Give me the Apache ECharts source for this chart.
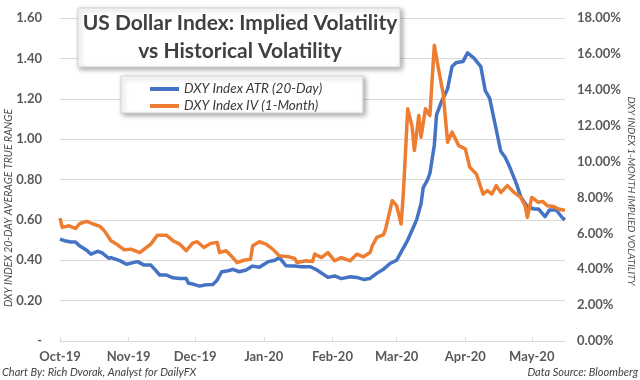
<!DOCTYPE html>
<html>
<head>
<meta charset="utf-8">
<script src="https://cdn.jsdelivr.net/npm/echarts@6/dist/echarts.min.js"></script>
<style>
html,body{margin:0;padding:0;background:#fff;}
#chart{width:640px;height:380px;}
</style>
</head>
<body>
<div id="chart"></div>
<script>
// ---- Data ----
const titleText = 'US Dollar Index: Implied Volatility\nvs Historical Volatility';
const seriesNames = ['DXY Index ATR (20-Day)', 'DXY Index IV (1-Month)'];
const monthTicks = ['2019-10-01','2019-11-01','2019-12-01','2020-01-01','2020-02-01','2020-03-01','2020-04-01','2020-05-01'];
const monthNames = ['Jan','Feb','Mar','Apr','May','Jun','Jul','Aug','Sep','Oct','Nov','Dec'];
const xStart = '2019-10-01';
const xEnd = '2020-05-16';

const atrDates = ['2019-10-01','2019-10-03','2019-10-06','2019-10-08','2019-10-10','2019-10-13','2019-10-15','2019-10-18','2019-10-20','2019-10-23','2019-10-24','2019-10-28','2019-10-31',
 '2019-11-03','2019-11-05','2019-11-08','2019-11-11','2019-11-13','2019-11-15','2019-11-18','2019-11-21','2019-11-24','2019-11-27','2019-11-28','2019-11-30',
 '2019-12-03','2019-12-06','2019-12-09','2019-12-11','2019-12-13','2019-12-16','2019-12-18','2019-12-21','2019-12-24','2019-12-27','2019-12-30',
 '2020-01-03','2020-01-06','2020-01-08','2020-01-11','2020-01-15','2020-01-18','2020-01-22','2020-01-25','2020-01-30',
 '2020-02-02','2020-02-05','2020-02-09','2020-02-12','2020-02-15','2020-02-18','2020-02-21','2020-02-24','2020-02-27',
 '2020-03-01','2020-03-03','2020-03-06','2020-03-08','2020-03-10','2020-03-12','2020-03-13','2020-03-15','2020-03-16','2020-03-18','2020-03-19','2020-03-21','2020-03-24','2020-03-26','2020-03-28','2020-03-31',
 '2020-04-02','2020-04-05','2020-04-08','2020-04-10','2020-04-12','2020-04-17','2020-04-19','2020-04-21','2020-04-24','2020-04-26','2020-04-29',
 '2020-05-02','2020-05-04','2020-05-07','2020-05-09','2020-05-12','2020-05-15','2020-05-16'];
const atrValues = [0.505,0.497,0.49,0.49,0.47,0.45,0.43,0.444,0.437,0.41,0.413,0.398,0.38,
 0.388,0.393,0.376,0.376,0.352,0.327,0.327,0.313,0.31,0.309,0.286,0.282,
 0.272,0.279,0.28,0.302,0.343,0.348,0.355,0.343,0.352,0.371,0.365,
 0.393,0.40,0.414,0.373,0.371,0.368,0.368,0.352,0.315,
 0.322,0.309,0.318,0.315,0.305,0.31,0.335,0.355,0.384,
 0.40,0.44,0.50,0.55,0.60,0.68,0.76,0.80,0.83,0.97,1.12,1.18,1.25,1.36,1.38,1.385,
 1.428,1.40,1.359,1.24,1.202,0.94,0.91,0.863,0.781,0.715,0.665,
 0.654,0.654,0.616,0.649,0.649,0.608,0.60];

const ivDates = ['2019-10-01','2019-10-02','2019-10-05','2019-10-08','2019-10-10','2019-10-13','2019-10-16','2019-10-19','2019-10-21','2019-10-24','2019-10-27','2019-10-30',
 '2019-11-02','2019-11-06','2019-11-09','2019-11-11','2019-11-14','2019-11-18','2019-11-21','2019-11-24','2019-11-27','2019-11-30',
 '2019-12-02','2019-12-05','2019-12-08','2019-12-11','2019-12-12','2019-12-15','2019-12-18','2019-12-20','2019-12-23','2019-12-26','2019-12-27','2019-12-30',
 '2020-01-02','2020-01-05','2020-01-08','2020-01-12','2020-01-15','2020-01-16','2020-01-20','2020-01-23','2020-01-24','2020-01-27','2020-01-30',
 '2020-02-02','2020-02-05','2020-02-09','2020-02-12','2020-02-15','2020-02-18','2020-02-19','2020-02-21','2020-02-24','2020-02-25','2020-02-28',
 '2020-03-01','2020-03-03','2020-03-04','2020-03-06','2020-03-08','2020-03-09','2020-03-11','2020-03-12','2020-03-14','2020-03-16','2020-03-18','2020-03-20','2020-03-22','2020-03-24','2020-03-26','2020-03-29',
 '2020-04-01','2020-04-03','2020-04-06','2020-04-09','2020-04-11','2020-04-13','2020-04-15','2020-04-17','2020-04-20','2020-04-23','2020-04-26','2020-04-28','2020-04-29',
 '2020-05-01','2020-05-04','2020-05-06','2020-05-08','2020-05-11','2020-05-13','2020-05-15','2020-05-16'];
const ivValues = [6.85,6.33,6.42,6.27,6.55,6.67,6.52,6.39,6.15,5.59,5.36,5.08,
 5.12,4.93,5.21,5.40,5.90,5.90,5.59,5.40,5.03,5.47,
 5.53,5.21,5.44,5.49,4.93,5.03,4.65,4.37,4.50,4.56,5.31,5.53,
 5.40,5.12,4.75,4.70,4.60,4.37,4.47,4.43,4.84,4.65,4.93,
 4.47,4.65,4.47,4.84,4.69,4.93,5.31,5.77,5.92,6.24,7.82,
 7.54,6.52,8.19,12.94,11.92,10.61,12.57,11.36,12.94,12.57,16.48,15.08,13.78,11.08,11.64,10.89,
 10.71,9.68,9.31,8.19,8.38,8.19,8.66,8.28,8.66,8.28,8.0,7.54,6.89,
 8.0,7.73,7.78,7.54,7.49,7.36,7.30,7.30];

// ---- helpers ----
function toTime(s){ const p = s.split('-'); return new Date(+p[0], +p[1]-1, +p[2]).getTime(); }
function pairs(dates, vals){ return dates.map((d,i)=>[toTime(d), vals[i]]); }

const FONT = 'Lato, "Open Sans", sans-serif';
const chart = echarts.init(document.getElementById('chart'), null, {renderer:'canvas'});

const option = {
  backgroundColor: '#ffffff',
  animation: false,
  grid: { left: 60, right: 75, top: 18, bottom: 39, containLabel: false },
  xAxis: {
    type: 'value',
    min: toTime(xStart),
    max: toTime(xEnd),
    axisLine: { show: true, onZero: false, lineStyle: { color: '#d9d9d9', width: 1 } },
    axisTick: { show: true, inside: true, length: 4, lineStyle: { color: '#d9d9d9' }, customValues: monthTicks.map(toTime) },
    splitLine: { show: false },
    axisLabel: {
      customValues: monthTicks.map(toTime),
      color: '#595959', fontFamily: FONT, fontWeight: 'bold', fontSize: 13, margin: 9,
      formatter: function(v){ const d = new Date(v); return monthNames[d.getMonth()] + '-' + String(d.getFullYear()).slice(2); }
    }
  },
  yAxis: [
    {
      type: 'value', min: 0, max: 1.6, interval: 0.2, position: 'left',
      axisLine: { show: false }, axisTick: { show: false },
      splitLine: { show: true, lineStyle: { color: '#d9d9d9', width: 1 } },
      axisLabel: {
        color: '#595959', fontFamily: FONT, fontWeight: 'bold', fontSize: 13, margin: 18,
        formatter: function(v){ return v === 0 ? '-' : v.toFixed(2); }
      }
    },
    {
      type: 'value', min: 0, max: 18, interval: 2, position: 'right',
      axisLine: { show: false }, axisTick: { show: false },
      splitLine: { show: false },
      axisLabel: {
        color: '#595959', fontFamily: FONT, fontWeight: 'bold', fontSize: 13, margin: 12,
        formatter: function(v){ return v.toFixed(2) + '%'; }
      }
    }
  ],
  legend: {
    orient: 'vertical', left: 145, top: 77, itemGap: 3,
    icon: 'rect', itemWidth: 29, itemHeight: 4,
    textStyle: { color: '#3a3a3a', fontFamily: FONT, fontStyle: 'italic', fontSize: 13.5 },
    data: seriesNames, z: 10
  },
  series: [
    { name: seriesNames[0], type: 'line', yAxisIndex: 0, data: pairs(atrDates, atrValues), showSymbol: false, smooth: false,
      color: '#4472C4', lineStyle: { width: 3.5, color: '#4472C4', join: 'round' }, z: 2 },
    { name: seriesNames[1], type: 'line', yAxisIndex: 1, data: pairs(ivDates, ivValues), showSymbol: false, smooth: false,
      color: '#ED7D31', lineStyle: { width: 3.5, color: '#ED7D31', join: 'round' }, z: 3 }
  ],
  graphic: [
    { type: 'rect', z: 5, shape: { x: 78, y: 8, width: 322, height: 59 },
      style: { fill: '#ffffff', stroke: '#d4d4d4', lineWidth: 1, shadowBlur: 5, shadowOffsetX: 2, shadowOffsetY: 2, shadowColor: 'rgba(0,0,0,0.35)' } },
    { type: 'text', z: 6, x: 240, y: 37.5,
      style: { text: titleText, fill: '#404040', font: 'bold 21px ' + FONT, align: 'center', verticalAlign: 'middle', lineHeight: 28 } },
    { type: 'rect', z: 5, shape: { x: 121, y: 76, width: 242, height: 37 },
      style: { fill: '#ffffff', stroke: '#d4d4d4', lineWidth: 1, shadowBlur: 5, shadowOffsetX: 2, shadowOffsetY: 2, shadowColor: 'rgba(0,0,0,0.35)' } },
    { type: 'text', z: 6, x: 9, y: 208, rotation: Math.PI/2,
      style: { text: 'DXY INDEX 20-DAY AVERAGE TRUE RANGE', fill: '#4d4d4d', font: 'italic 10.5px ' + FONT, align: 'center', verticalAlign: 'middle' } },
    { type: 'text', z: 6, x: 631, y: 191, rotation: -Math.PI/2,
      style: { text: 'DXY INDEX 1-MONTH IMPLIED VOLATILITY', fill: '#4d4d4d', font: 'italic 10px ' + FONT, align: 'center', verticalAlign: 'middle' } },
    { type: 'text', z: 6, x: 2, y: 372,
      style: { text: 'Chart By: Rich Dvorak, Analyst for DailyFX', fill: '#404040', font: 'italic 11px ' + FONT, align: 'left', verticalAlign: 'middle' } },
    { type: 'text', z: 6, x: 638, y: 372,
      style: { text: 'Data Source: Bloomberg', fill: '#404040', font: 'italic 11px ' + FONT, align: 'right', verticalAlign: 'middle' } }
  ]
};
chart.setOption(option);
</script>
</body>
</html>
